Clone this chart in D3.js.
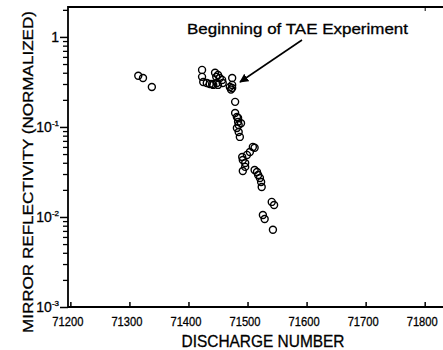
<!DOCTYPE html>
<html>
<head>
<meta charset="utf-8">
<script src="https://cdn.jsdelivr.net/npm/d3@7"></script>
<style>
  body { margin: 0; background: #fff; }
  text { font-family: "Liberation Sans", Arial, sans-serif; fill: #000; stroke: #000; stroke-width: 0.3; }
</style>
</head>
<body>
<div class="graphHere"></div>
<script>
// discharge numbers and normalized reflectivity
var shots = [71315, 71323, 71338,
  71423, 71423, 71425, 71431, 71436, 71440, 71442, 71445, 71447, 71448, 71450, 71450, 71453, 71457, 71458,
  71470, 71472, 71474, 71474, 71474,
  71479, 71479, 71482, 71484, 71484, 71485, 71482, 71485, 71487, 71489,
  71491, 71492, 71496, 71499, 71504, 71509, 71512, 71496, 71492,
  71512, 71516, 71518, 71521, 71523, 71524,
  71526, 71529, 71541, 71543, 71545];
var reflect = [0.37, 0.35, 0.278,
  0.43, 0.36, 0.316, 0.308, 0.30, 0.30, 0.293, 0.40, 0.36, 0.308, 0.378, 0.293, 0.35, 0.333, 0.308,
  0.278, 0.26, 0.35, 0.271, 0.293,
  0.19, 0.143, 0.129, 0.126, 0.114, 0.105, 0.0975, 0.088, 0.0775, 0.11,
  0.0464, 0.043, 0.0398, 0.0489, 0.0527, 0.06, 0.0587, 0.036, 0.0324,
  0.0333, 0.0316, 0.0293, 0.0271, 0.0245, 0.0215,
  0.0105, 0.0095, 0.0147, 0.0072, 0.0136];
var xTicks = [71200, 71300, 71400, 71500, 71600, 71700, 71800];
var yMajor = [1e-3, 1e-2, 1e-1, 1];
var yMajorLabels = [["10", "-3"], ["10", "-2"], ["10", "-1"], ["1", ""]];

var width = 443, height = 350;
var margin = {left: 68, top: 7, bottom: 43};

var svg = d3.select(".graphHere").append("svg")
  .attr("width", width)
  .attr("height", height);

var x = d3.scaleLinear()
  .domain([71196, 71831])
  .range([margin.left, width]);
var y = d3.scaleLog()
  .domain([1e-3, 2.15])
  .range([height - margin.bottom, margin.top]);

// frame: top, left, bottom
svg.append("path")
  .attr("d", "M" + width + "," + y.range()[1] + "H" + margin.left + "V" + y.range()[0] + "H" + width)
  .attr("fill", "none")
  .attr("stroke", "#000")
  .attr("stroke-width", 1.8);

// x axis ticks (inward) and labels
var xAxis = d3.axisBottom(x).tickValues(xTicks).tickSize(-5).tickPadding(10).tickFormat(d3.format("d"));
var gx = svg.append("g")
  .attr("transform", "translate(0," + y.range()[0] + ")")
  .call(xAxis);
gx.select(".domain").remove();
gx.selectAll(".tick line").attr("stroke-width", 1.5);
gx.selectAll(".tick text")
  .attr("font-size", 13)
  .attr("textLength", 31)
  .attr("lengthAdjust", "spacingAndGlyphs")
  .attr("dx", -3)
  .attr("dy", "0.72em");

// top ticks
svg.append("g").attr("transform", "translate(0," + y.range()[1] + ")")
  .call(d3.axisTop(x).tickValues([71800]).tickSize(-4).tickFormat(""))
  .call(function(g){ g.select(".domain").remove(); });

// y minor ticks
var minor = [];
yMajor.slice(0, 3).forEach(function(m){
  for (var k = 2; k <= 9; k++) minor.push(m * k);
});
minor.push(2);
svg.append("g")
  .attr("transform", "translate(" + margin.left + ",0)")
  .call(d3.axisLeft(y).tickValues(minor).tickSize(5).tickFormat(""))
  .call(function(g){ g.select(".domain").remove(); })
  .selectAll(".tick line").attr("stroke-width", 1.3);

// y major ticks
var gy = svg.append("g")
  .attr("transform", "translate(" + margin.left + ",0)")
  .call(d3.axisLeft(y).tickValues(yMajor).tickSize(8).tickFormat(""));
gy.select(".domain").remove();
gy.selectAll(".tick line").attr("stroke-width", 1.5);

yMajor.forEach(function(v, i){
  var lab = yMajorLabels[i];
  var t = svg.append("text")
    .attr("x", 59)
    .attr("y", y(v) + 5)
    .attr("text-anchor", "end")
    .attr("font-size", 14);
  t.append("tspan").text(lab[0]);
  if (lab[1]) {
    t.append("tspan").attr("dy", -6).attr("font-size", 8).text(lab[1]);
  }
});

// data points
svg.append("g").selectAll("circle")
  .data(shots)
  .enter().append("circle")
  .attr("cx", function(d){ return x(d); })
  .attr("cy", function(d, i){ return y(reflect[i]); })
  .attr("r", 3.5)
  .attr("fill", "none")
  .attr("stroke", "#000")
  .attr("stroke-width", 1.4);

// annotation
svg.append("text")
  .attr("x", 187)
  .attr("y", 34)
  .attr("font-size", 15)
  .attr("textLength", 221)
  .attr("lengthAdjust", "spacingAndGlyphs")
  .text("Beginning of TAE Experiment");

svg.append("defs").append("marker")
  .attr("id", "arrow")
  .attr("viewBox", "0 0 10 10")
  .attr("refX", 9).attr("refY", 5)
  .attr("markerWidth", 9).attr("markerHeight", 9)
  .attr("markerUnits", "userSpaceOnUse")
  .attr("orient", "auto")
  .append("path").attr("d", "M0,0L10,5L0,10Z").attr("fill", "#000");

svg.append("line")
  .attr("x1", 302).attr("y1", 40)
  .attr("x2", 240).attr("y2", 82)
  .attr("stroke", "#000")
  .attr("stroke-width", 1.6)
  .attr("marker-end", "url(#arrow)");

// axis titles
svg.append("text")
  .attr("x", 263)
  .attr("y", 347)
  .attr("text-anchor", "middle")
  .attr("font-size", 17)
  .attr("textLength", 163)
  .attr("lengthAdjust", "spacingAndGlyphs")
  .text("DISCHARGE NUMBER");

svg.append("text")
  .attr("transform", "translate(33,172) rotate(-90)")
  .attr("text-anchor", "middle")
  .attr("font-size", 15)
  .attr("textLength", 322)
  .attr("lengthAdjust", "spacingAndGlyphs")
  .text("MIRROR REFLECTIVITY (NORMALIZED)");
</script>
</body>
</html>
